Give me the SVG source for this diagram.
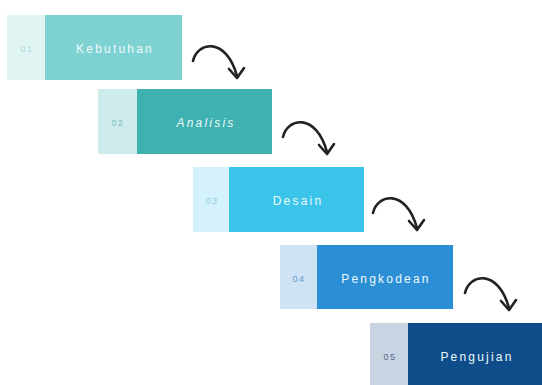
<svg xmlns="http://www.w3.org/2000/svg" width="542" height="385" viewBox="0 0 542 385">
<style>
.num{font-family:"Liberation Sans",Arial,sans-serif;font-size:9px;text-anchor:middle;letter-spacing:1.5px}
.lbl{font-family:"Liberation Sans",Arial,sans-serif;font-size:12px;fill:#eefafa;text-anchor:middle;letter-spacing:2.2px}
.arc{fill:none;stroke:#222;stroke-width:2.6;stroke-linecap:round;stroke-linejoin:round}
</style>
<defs>
<g id="arrow">
<path class="arc" d="M193,61 C197,42 226,36 237,76"/>
<path class="arc" d="M229,69 L237,78 L244,68"/>
</g>
</defs>
<rect width="542" height="385" fill="#ffffff"/>
<g id="n1">
<rect x="7" y="15" width="38" height="65" fill="#e1f4f4"/>
<rect x="45" y="15" width="137" height="65" fill="#7ed2d2"/>
<text class="num" x="27" y="52" fill="#a9d9d9">01</text>
<text class="lbl" x="115" y="53">Kebutuhan</text>
</g>
<g id="n2">
<rect x="98" y="89" width="39" height="65" fill="#cfecec"/>
<rect x="137" y="89" width="135" height="65" fill="#3fb1b1"/>
<text class="num" x="118" y="126" fill="#7fc0c0">02</text>
<text class="lbl" x="206" y="127" font-style="italic">Analisis</text>
</g>
<g id="n3">
<rect x="193" y="167" width="36" height="65" fill="#d5f1fb"/>
<rect x="229" y="167" width="135" height="65" fill="#3ac4ea"/>
<text class="num" x="212" y="204" fill="#8ccfe6">03</text>
<text class="lbl" x="298" y="205">Desain</text>
</g>
<g id="n4">
<rect x="280" y="245" width="37" height="64" fill="#d0e3f5"/>
<rect x="317" y="245" width="136" height="64" fill="#2c8fd6"/>
<text class="num" x="299" y="282" fill="#5e9dcf">04</text>
<text class="lbl" x="386" y="283">Pengkodean</text>
</g>
<g id="n5">
<rect x="370" y="323" width="38" height="65" fill="#c9d4e2"/>
<rect x="408" y="323" width="136" height="65" fill="#0f4d8a"/>
<text class="num" x="390" y="360" fill="#56698a">05</text>
<text class="lbl" x="477" y="361">Pengujian</text>
</g>
<g id="connectors">
<use href="#arrow"/>
<use href="#arrow" transform="translate(90,76)"/>
<use href="#arrow" transform="translate(180,152)"/>
<use href="#arrow" transform="translate(272,232)"/>
</g>
</svg>
